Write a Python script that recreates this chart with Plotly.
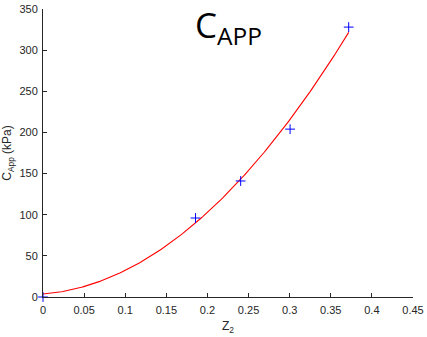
import numpy as np
import plotly.graph_objects as go

# measured data points
z2 = [0.0, 0.1855, 0.2404, 0.3005, 0.3718]
c_app = [0.0, 96, 141, 204, 328]

# quadratic fit coefficients: c = a + b*z + c2*z^2
fit_a, fit_b, fit_c = 3.6, 77.9, 2091.0
z_fit = np.linspace(0, max(z2), 200)
c_fit = fit_a + fit_b * z_fit + fit_c * z_fit ** 2

x_ticks = [0, 0.05, 0.1, 0.15, 0.2, 0.25, 0.3, 0.35, 0.4, 0.45]
x_ticklabels = ["0", "0.05", "0.1", "0.15", "0.2", "0.25", "0.3", "0.35", "0.4", "0.45"]
y_ticks = [0, 50, 100, 150, 200, 250, 300, 350]

axcol = "#262626"
fig = go.Figure()
fig.add_trace(go.Scatter(x=z_fit, y=c_fit, mode="lines",
                         line=dict(color="red", width=1.1), showlegend=False))
fig.add_trace(go.Scatter(x=z2, y=c_app, mode="markers",
                         marker=dict(symbol="cross-thin", size=7, color="blue",
                                     line=dict(color="blue", width=1)),
                         showlegend=False, cliponaxis=False))

fig.add_annotation(text="C<sub>APP</sub>", x=0.5, xref="paper", y=0.94, yref="paper",
                   xanchor="center", yanchor="middle", showarrow=False,
                   font=dict(family="Open Sans", size=35, color="black"))

fig.update_layout(
    width=427, height=337,
    margin=dict(l=43, r=14, t=9, b=40),
    paper_bgcolor="white", plot_bgcolor="white",
    font=dict(family="Liberation Sans, Arial", size=11, color=axcol),
)
fig.update_xaxes(range=[0, 0.45], tickvals=x_ticks, ticktext=x_ticklabels, automargin=False,
                 showgrid=False, zeroline=False, showline=True, linecolor=axcol, linewidth=1,
                 ticks="inside", ticklen=4, tickcolor=axcol, ticklabelstandoff=3,
                 title=dict(text="Z<sub>2</sub>", standoff=6, font=dict(size=12)))
fig.update_yaxes(range=[0, 350], tickvals=y_ticks, automargin=False,
                 showgrid=False, zeroline=False, showline=True, linecolor=axcol, linewidth=1,
                 ticks="inside", ticklen=4, tickcolor=axcol, ticklabelstandoff=2,
                 title=dict(text="C<sub>App</sub> (kPa)", standoff=8, font=dict(size=12)))

fig.write_html("out.html")
